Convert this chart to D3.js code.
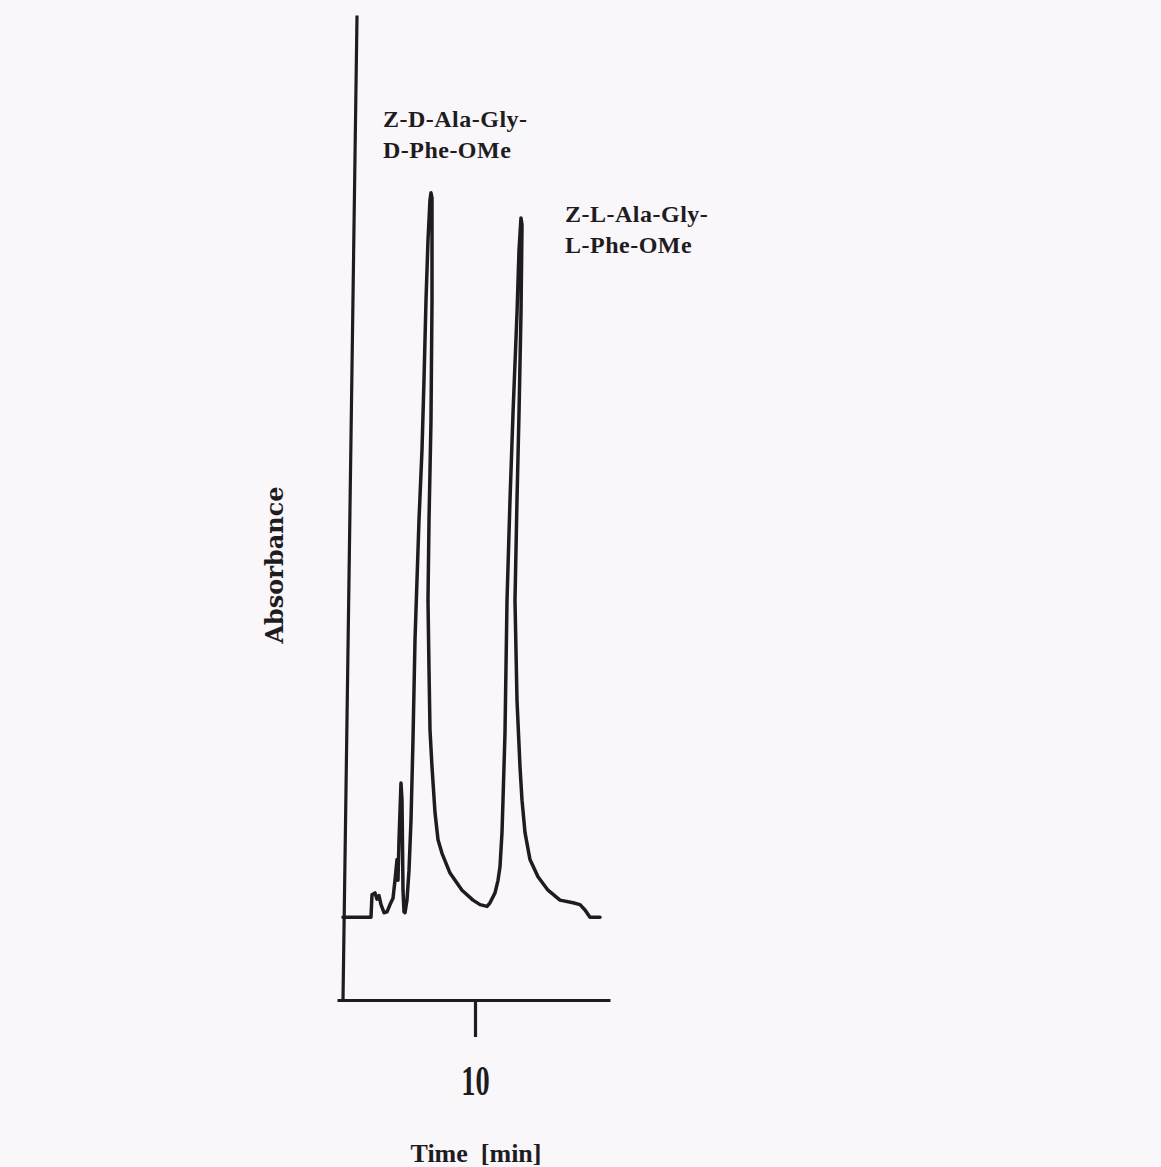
<!DOCTYPE html>
<html>
<head>
<meta charset="utf-8">
<script src="https://cdn.jsdelivr.net/npm/d3@7"></script>
<style>
  html, body { margin: 0; padding: 0; background: #faf7fa; }
  svg { display: block; }
</style>
</head>
<body>
<script>
// ---- data (time in min, absorbance in arbitrary units) ----
const traceTime = [5.6, 6.533, 6.567, 6.667, 6.733, 6.8, 6.867, 6.967, 7.067, 7.167, 7.267, 7.333, 7.4, 7.433, 7.467, 7.533, 7.567, 7.6, 7.633, 7.667,
  7.733, 7.8, 7.867, 7.933, 8.0, 8.067, 8.133, 8.233, 8.3, 8.367, 8.433, 8.5, 8.533, 8.567, 8.567, 8.533, 8.467, 8.433, 8.467, 8.5,
  8.567, 8.667, 8.767, 8.9, 9.167, 9.567, 9.933, 10.167, 10.4, 10.5, 10.667, 10.767, 10.833, 10.9, 10.933, 11.0, 11.067, 11.167, 11.267, 11.4,
  11.467, 11.533, 11.567, 11.533, 11.467, 11.4, 11.333, 11.4, 11.5, 11.567, 11.667, 11.833, 12.1, 12.433, 12.833, 13.267, 13.5, 13.667, 13.833, 14.167];
const traceAbs = [0.092, 0.092, 0.117, 0.119, 0.112, 0.116, 0.106, 0.097, 0.098, 0.106, 0.113, 0.133, 0.156, 0.133, 0.178, 0.241, 0.222, 0.122, 0.098, 0.097,
  0.111, 0.144, 0.2, 0.289, 0.4, 0.467, 0.533, 0.611, 0.689, 0.778, 0.844, 0.889, 0.897, 0.891, 0.778, 0.644, 0.533, 0.444, 0.367, 0.3,
  0.259, 0.208, 0.178, 0.163, 0.141, 0.122, 0.111, 0.106, 0.104, 0.108, 0.119, 0.133, 0.148, 0.186, 0.222, 0.297, 0.444, 0.556, 0.652, 0.763,
  0.833, 0.869, 0.861, 0.763, 0.652, 0.556, 0.444, 0.333, 0.259, 0.222, 0.186, 0.156, 0.137, 0.122, 0.111, 0.108, 0.106, 0.1, 0.092, 0.092];
const xTicks = [10];
const xDomain = [5.4, 14.5];
const yDomain = [0, 1.1];
const axisTopAbs = 1.094;
const peakLabels = [
  { lines: ["Z-D-Ala-Gly-", "D-Phe-OMe"], t: 6.93, a: 0.97 },
  { lines: ["Z-L-Ala-Gly-", "L-Phe-OMe"], t: 13.0, a: 0.864 }
];
const xTitle = "Time  [min]";
const yTitle = "Absorbance";

// ---- drawing ----
const W = 1161, H = 1167;
const svg = d3.select("body").append("svg").attr("width", W).attr("height", H);
svg.append("rect").attr("width", W).attr("height", H).attr("fill", "#faf7fa");

const x = d3.scaleLinear().domain(xDomain).range([337, 610]);
const y = d3.scaleLinear().domain(yDomain).range([1000, 10]);
const ink = "#1e1c1f";

// x axis
const xAxis = svg.append("g").attr("transform", "translate(0,1000)")
  .call(d3.axisBottom(x).tickValues(xTicks).tickSize(37).tickSizeOuter(0).tickFormat(d3.format("d")));
xAxis.select(".domain").attr("stroke", ink).attr("stroke-width", 3.2);
xAxis.selectAll(".tick line").attr("stroke", ink).attr("stroke-width", 3.2);
xAxis.selectAll(".tick text")
  .attr("y", 95).attr("dy", 0)
  .attr("transform", "scale(0.66,1)")
  .attr("fill", ink)
  .style("font-family", "'Liberation Serif', 'Times New Roman', serif")
  .style("font-weight", "bold")
  .style("font-size", "43px");

// y axis line (slightly skewed as in the scan)
svg.append("path")
  .attr("d", d3.line()([[x(5.6), y(0)], [x(6.067), y(axisTopAbs)]]))
  .attr("stroke", ink).attr("stroke-width", 3.2).attr("fill", "none");

// trace
const pts = traceTime.map((t, i) => [t, traceAbs[i]]);
svg.append("path")
  .datum(pts)
  .attr("d", d3.line().x(d => x(d[0])).y(d => y(d[1])).curve(d3.curveLinear))
  .attr("stroke", ink).attr("stroke-width", 3.5).attr("fill", "none")
  .attr("stroke-linejoin", "round").attr("stroke-linecap", "round");

// peak labels
peakLabels.forEach(p => {
  const g = svg.append("text")
    .attr("x", x(p.t)).attr("y", y(p.a))
    .attr("fill", ink)
    .style("font-family", "'Liberation Serif', 'Times New Roman', serif")
    .style("font-weight", "bold")
    .style("font-size", "24px")
    .style("letter-spacing", "0.5px");
  p.lines.forEach((l, i) => {
    g.append("tspan").attr("x", x(p.t)).attr("dy", i === 0 ? 0 : 30.5).text(l);
  });
});

// axis titles
svg.append("text")
  .attr("x", 476).attr("y", 1162)
  .attr("text-anchor", "middle")
  .attr("fill", ink)
  .style("font-family", "'Liberation Serif', 'Times New Roman', serif")
  .style("font-weight", "bold")
  .style("font-size", "26px")
  .style("white-space", "pre")
  .attr("xml:space", "preserve")
  .text(xTitle);

svg.append("text")
  .attr("transform", "translate(283,565) rotate(-90)")
  .attr("text-anchor", "middle")
  .attr("fill", ink)
  .style("font-family", "'DejaVu Serif', serif")
  .style("font-weight", "bold")
  .style("font-size", "24px")
  .text(yTitle);
</script>
</body>
</html>
